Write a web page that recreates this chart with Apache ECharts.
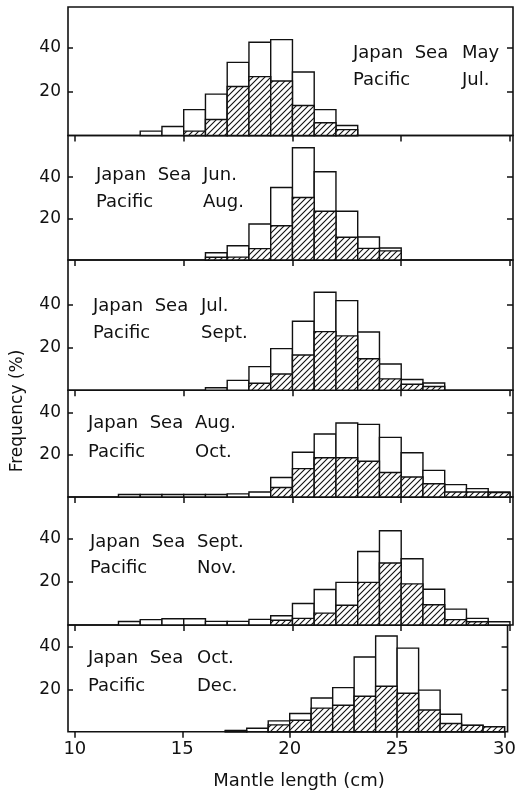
<!DOCTYPE html>
<html><head><meta charset="utf-8">
<script src="https://cdn.jsdelivr.net/npm/echarts@6/dist/echarts.min.js"></script>
<style>html,body{margin:0;padding:0;background:#fff}#c{width:519px;height:794px}</style>
</head><body><div id="c"></div>
<script>
// Bin lower edges (cm), each bin is 1 cm wide
const bins = [10,11,12,13,14,15,16,17,18,19,20,21,22,23,24,25,26,27,28,29];
const xTicks = [10,15,20,25,30];
const yTicks = [20,40];

// Open bar (total) heights, % — one array per panel, aligned to bins
const total1 = [0,0,0,2.0,4.1,11.8,18.9,33.4,42.6,43.8,29.0,11.8,4.6,0,0,0,0,0,0,0];
const total2 = [0,0,0,0,0,0,3.5,6.9,17.4,35.0,54.2,42.6,23.5,11.1,5.8,0,0,0,0,0];
const total3 = [0,0,0,0,0,0,1.2,4.6,11.0,19.4,32.1,45.6,41.7,27.1,12.2,5.0,3.4,0,0,0];
const total4 = [0,0,1.2,1.2,1.2,1.2,1.2,1.5,2.4,9.3,21.3,30.0,35.2,34.6,28.4,21.1,12.7,5.9,4.0,2.4];
const total5 = [0,0,1.6,2.5,2.9,2.9,1.7,1.7,2.6,4.3,10.0,16.5,19.8,34.2,43.8,30.8,16.6,7.4,3.1,1.5];
const total6 = [0,0,0,0,0,0,0,0.6,1.6,5.1,8.6,15.9,20.8,35.2,45.1,39.4,19.6,8.2,3.1,2.4];

// Hatched bar heights, %
const hatch1 = [0,0,0,0,0,2.0,7.3,22.4,26.9,24.9,13.7,5.8,2.7,0,0,0,0,0,0,0];
const hatch2 = [0,0,0,0,0,0,1.3,1.4,5.5,16.5,30.2,23.5,11.0,5.6,4.4,0,0,0,0,0];
const hatch3 = [0,0,0,0,0,0,0,0,3.3,7.6,16.4,27.3,25.3,14.7,5.3,2.8,1.8,0,0,0];
const hatch4 = [0,0,0,0,0,0,0,0,0,4.5,13.5,18.7,18.7,17.0,11.7,9.5,6.3,2.4,2.4,2.1];
const hatch5 = [0,0,0,0,0,0,0,0,0,2.2,3.1,5.5,9.2,19.8,28.8,19.1,9.4,2.5,1.5,0];
const hatch6 = [0,0,0,0,0,0,0,0.3,0,3.2,5.4,11.1,12.5,16.7,21.4,18.1,10.2,3.9,3.0,2.3];

// Panel labels: [sea name, sea month, ocean name, ocean month]
const labels1 = ["Japan  Sea", "May", "Pacific", "Jul."];
const labels2 = ["Japan  Sea", "Jun.", "Pacific", "Aug."];
const labels3 = ["Japan  Sea", "Jul.", "Pacific", "Sept."];
const labels4 = ["Japan  Sea", "Aug.", "Pacific", "Oct."];
const labels5 = ["Japan  Sea", "Sept.", "Pacific", "Nov."];
const labels6 = ["Japan  Sea", "Oct.", "Pacific", "Dec."];

const xTitle = "Mantle length (cm)";
const yTitle = "Frequency (%)";

const totals = [total1,total2,total3,total4,total5,total6];
const hatches = [hatch1,hatch2,hatch3,hatch4,hatch5,hatch6];
const labelSets = [labels1,labels2,labels3,labels4,labels5,labels6];

// Layout (pixels)
const tops = [7,135.5,260,390.3,497,625];
const heights = [128.5,124.5,130.3,106.7,128,106.7];
const yMax = [58.7,60.1,60.6,50.8,59.5,50.3];
const labelPos = [
  {x:353, y1:53, y2:80, mx:462},
  {x:96, y1:175, y2:202, mx:203},
  {x:93, y1:306, y2:333, mx:201},
  {x:88, y1:423, y2:452, mx:195},
  {x:90, y1:542, y2:568, mx:197},
  {x:88, y1:658, y2:686, mx:197}
];

const FONT = '"DejaVu Sans", sans-serif';
const INK = '#111';

// hatch pattern ///
const pc = document.createElement('canvas');
pc.width = 6; pc.height = 6;
const pctx = pc.getContext('2d');
pctx.fillStyle = '#fff'; pctx.fillRect(0,0,6,6);
pctx.strokeStyle = INK; pctx.lineWidth = 1.1;
pctx.beginPath();
pctx.moveTo(-1,7); pctx.lineTo(7,-1);
pctx.moveTo(-4,4); pctx.lineTo(4,-4);
pctx.moveTo(2,10); pctx.lineTo(10,2);
pctx.stroke();
const pattern = {image: pc, repeat: 'repeat'};

const grids = [], xAxes = [], yAxes = [], series = [], graphics = [];

for (let i = 0; i < 6; i++) {
  grids.push({left:68, width:445, top:tops[i], height:heights[i], show:true,
    borderColor:INK, borderWidth:1.6, backgroundColor:'transparent'});
  xAxes.push({type:'value', gridIndex:i, position:'top', min:9.68, max:30.14,
    axisLine:{show:false}, splitLine:{show:false},
    axisTick:{show:true, inside:true, length:6, customValues:xTicks, lineStyle:{color:INK, width:1.5}},
    axisLabel:{show:false}});
  yAxes.push({type:'value', gridIndex:i, position:'left', min:0, max:yMax[i],
    axisLine:{show:false}, splitLine:{show:false},
    axisTick:{show:true, inside:true, length:5, customValues:yTicks, lineStyle:{color:INK, width:1.5}},
    axisLabel:{show:true, customValues:yTicks, margin:7, fontSize:17, fontFamily:FONT, color:INK}});
  yAxes.push({type:'value', gridIndex:i, position:'right', min:0, max:yMax[i],
    axisLine:{show:false}, splitLine:{show:false},
    axisTick:{show:true, inside:true, length:6, customValues:yTicks, lineStyle:{color:INK, width:1.5}},
    axisLabel:{show:false}});
}
// bottom axis with labels
xAxes.push({type:'value', gridIndex:5, position:'bottom', min:9.68, max:30.14,
  axisLine:{show:false}, splitLine:{show:false},
  axisTick:{show:true, inside:false, length:5, customValues:xTicks, lineStyle:{color:INK, width:1.5}},
  axisLabel:{show:true, customValues:xTicks, margin:9, fontSize:18, fontFamily:FONT, color:INK}});

function mkSeries(i, values, hatched) {
  const data = [];
  bins.forEach((b, k) => { if (values[k] > 0) data.push([b, values[k]]); });
  return {
    type:'custom', xAxisIndex:i, yAxisIndex:2*i, data, silent:true,
    z: hatched ? 4 : 3, encode:{x:0, y:1},
    renderItem: function (params, api) {
      const x0 = api.value(0), v = api.value(1);
      const a = api.coord([x0, v]);
      const b = api.coord([x0 + 1, 0]);
      return {type:'rect',
        shape:{x:a[0], y:a[1], width:b[0]-a[0], height:b[1]-a[1]},
        style:{fill: hatched ? pattern : '#fff', stroke:INK, lineWidth:1.4}};
    }
  };
}

for (let i = 0; i < 6; i++) {
  series.push(mkSeries(i, totals[i], false));
  series.push(mkSeries(i, hatches[i], true));
  const L = labelSets[i], P = labelPos[i];
  const ts = {fontSize:18, fontFamily:FONT, fill:INK, verticalAlign:'middle', align:'left'};
  graphics.push({type:'text', x:P.x, y:P.y1, style:Object.assign({text:L[0]}, ts)});
  graphics.push({type:'text', x:P.mx, y:P.y1, style:Object.assign({text:L[1]}, ts)});
  graphics.push({type:'text', x:P.x, y:P.y2, style:Object.assign({text:L[2]}, ts)});
  graphics.push({type:'text', x:P.mx, y:P.y2, style:Object.assign({text:L[3]}, ts)});
}
graphics.push({type:'text', x:299, y:781, style:{text:xTitle, fontSize:18, fontFamily:FONT, fill:INK, align:'center', verticalAlign:'middle'}});
graphics.push({type:'text', x:18, y:411, rotation:Math.PI/2, style:{text:yTitle, fontSize:17, fontFamily:FONT, fill:INK, align:'center', verticalAlign:'middle'}});

const chart = echarts.init(document.getElementById('c'), null, {renderer:'canvas'});
chart.setOption({
  animation:false, backgroundColor:'#fff',
  grid:grids, xAxis:xAxes, yAxis:yAxes, series, graphic:graphics
});
</script></body></html>
